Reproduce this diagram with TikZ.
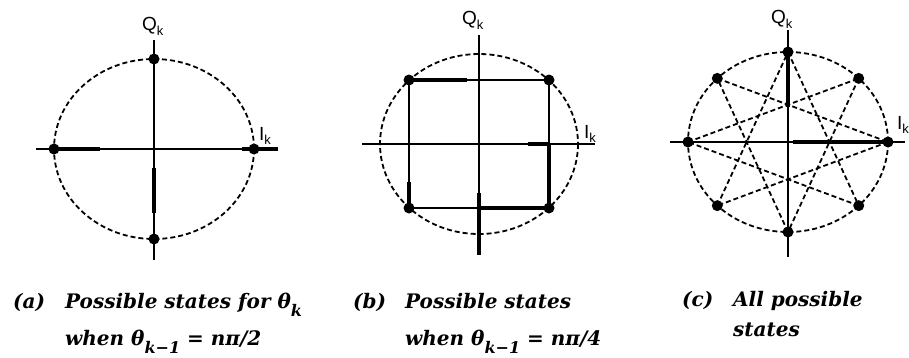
\documentclass[tikz,border=0pt]{standalone}
\usepackage{fontspec}
\setmainfont{DejaVu Serif}
\newfontfamily\axisfont{Liberation Sans}
\usetikzlibrary{positioning}
\newcommand{\lowered}[1]{\raisebox{-0.4em}{\fontsize{16}{16}\selectfont #1}}
\newcommand{\axsub}[1]{\raisebox{-0.25em}{\fontsize{13}{13}\selectfont #1}}

\begin{document}
\begin{tikzpicture}[x=1pt, y=-1pt, every node/.style={inner sep=0pt},
  ring/.style={dash pattern=on 5pt off 3pt, line width=1.8pt},
  axis/.style={line width=1.7pt},
  heavy/.style={line width=4.4pt},
  dot/.style={circle, fill, minimum size=11pt, inner sep=0pt},
  lab/.style={font=\axisfont\fontsize{19}{19}\selectfont, anchor=west},
  captext/.style={font=\bfseries\itshape\fontsize{20}{24}\selectfont, anchor=base west}]
\useasboundingbox (0,0) rectangle (909,357);
% (a) four states
\coordinate (ca) at (154,149);
\draw[ring] (ca) ellipse [x radius=100, y radius=90];
\coordinate (aW) at (36,149);  \coordinate (aE) at (278,149);
\coordinate (aN) at (154,40);  \coordinate (aS) at (154,260);
\draw[axis] (aW) -- (aE);
\draw[axis] (aN) -- (aS);
\foreach \n/\p in {a1/{(254,149)}, a2/{(154,59)}, a3/{(54,149)}, a4/{(154,239)}} {\node[dot] (\n) at \p {};}
\coordinate (aT1) at (100,149); \coordinate (aT2) at (242,149);
\coordinate (aT3) at (154,168); \coordinate (aT4) at (154,213);
\draw[heavy] (a3.center) -- (aT1);
\draw[heavy] (aT2) -- (aE);
\draw[heavy] (aT3) -- (aT4);
\node[lab] (qa) at (142,26) {Q\axsub{k}};
\node[lab] (ia) at (259,136) {I\axsub{k}};
% (b) four states, shifted
\coordinate (cb) at (479,144);
\draw[ring] (cb) ellipse [x radius=99, y radius=90];
\coordinate (bW) at (362,144); \coordinate (bE) at (595,144);
\coordinate (bN) at (479,35);  \coordinate (bS) at (479,255);
\draw[axis] (bW) -- (bE);
\draw[axis] (bN) -- (bS);
\foreach \n/\p in {b1/{(549,80)}, b2/{(409,80)}, b3/{(409,208)}, b4/{(549,208)}} {\node[dot] (\n) at \p {};}
\draw[axis] (b1.center) -- (b2.center) -- (b3.center) -- (b4.center) -- cycle;
\coordinate (bT1) at (467,80);  \coordinate (bT2) at (549,144);
\coordinate (bT3) at (528,144); \coordinate (bT4) at (409,182);
\coordinate (bT5) at (479,208); \coordinate (bT6) at (479,193);
\draw[heavy] (b2.center) -- (bT1);
\draw[heavy] (bT2) -- (b4.center);
\draw[heavy] (bT3) -- (bT2);
\draw[heavy] (bT4) -- (b3.center);
\draw[heavy] (bT5) -- (b4.center);
\draw[heavy] (bT6) -- (bS);
\node[lab] (qb) at (462,20) {Q\axsub{k}};
\node[lab] (ib) at (584,134) {I\axsub{k}};
% (c) all eight states
\coordinate (cc) at (788,142);
\draw[ring] (cc) ellipse [x radius=100, y radius=90];
\coordinate (cW) at (670,142); \coordinate (cE) at (905,142);
\coordinate (cN) at (788,30);  \coordinate (cS) at (788,257);
\draw[axis] (cW) -- (cE);
\draw[axis] (cN) -- (cS);
\foreach \i in {0,...,7} {\node[dot] (c\i) at ([shift={(\i*45:100 and 90)}]cc) {};}
\foreach \i in {0,...,7} {\pgfmathtruncatemacro{\j}{mod(\i+3,8)} \draw[ring] (c\i.center) -- (c\j.center);}
\coordinate (cT1) at (788,107); \coordinate (cT2) at (793,142);
\draw[heavy] (c6.center) -- (cT1);
\draw[heavy] (cT2) -- (c0.center);
\node[lab] (qc) at (771,19) {Q\axsub{k}};
\node[lab] (ic) at (897,125) {I\axsub{k}};
% captions
\node[captext] (capa) at (13,308) {(a)};
\node[captext] (txta) at (65,308) {Possible states for θ\lowered{k}};
\node[captext] (txta2) at (65,345) {when θ\lowered{k−1} = nπ/2};
\node[captext] (capb) at (353,308) {(b)};
\node[captext] (txtb) at (405,308) {Possible states};
\node[captext] (txtb2) at (405,345) {when θ\lowered{k−1} = nπ/4};
\node[captext] (capc) at (682,306) {(c)};
\node[captext] (txtc) at (733,306) {All possible};
\node[captext] (txtc2) at (733,336) {states};
\end{tikzpicture}
\end{document}
